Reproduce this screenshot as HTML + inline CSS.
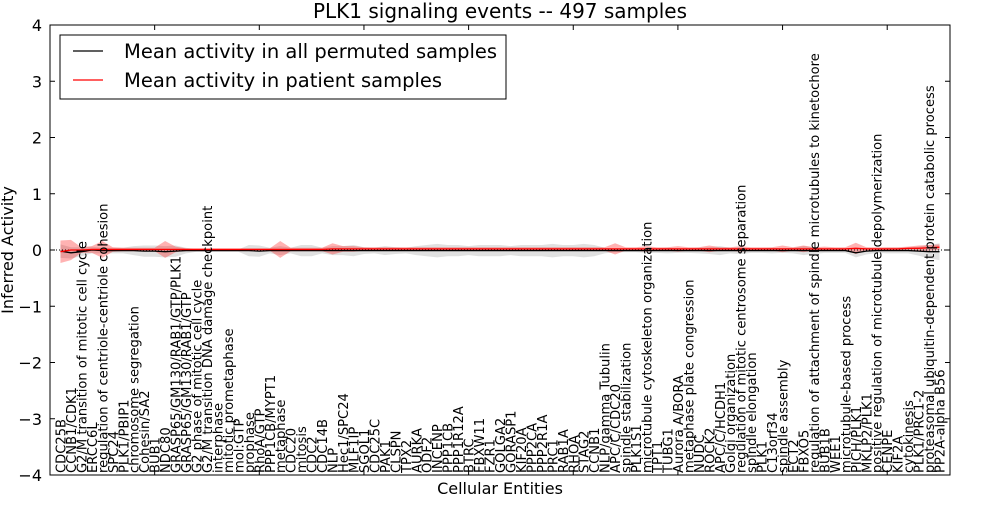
<!DOCTYPE html>
<html><head><meta charset="utf-8"><style>
body{margin:0;background:#fff;}
svg{font-family:"DejaVu Sans","Liberation Sans",sans-serif;}
</style></head><body>
<svg id="chart" width="1000" height="500" xmlns="http://www.w3.org/2000/svg">
<rect width="1000" height="500" fill="#fff"/>
<text x="500" y="18" text-anchor="middle" font-size="20">PLK1 signaling events -- 497 samples</text>
<text transform="translate(13,250) rotate(-90)" text-anchor="middle" font-size="16">Inferred Activity</text>
<text x="500" y="494" text-anchor="middle" font-size="16">Cellular Entities</text>
<g id="plot"></g>
</svg>
<script>
const categories=["CDC25B","CCNB1/CDK1","G2/M transition of mitotic cell cycle","ERCC6L","regulation of centriole-centriole cohesion","SPC24","PLK1/PBIP1","chromosome segregation","Cohesin/SA2","BUB1","NDC80","GRASP65/GM130/RAB1/GTP/PLK1","GRASP65/GM130/RAB1/GTP","G2 phase of mitotic cell cycle","G2/M transition DNA damage checkpoint","interphase","mitotic prometaphase","mol:GTP","prophase","RhoA/GTP","PPP1CB/MYPT1","metaphase","CDC20","mitosis","CDC2","CDC14B","NLP","Hec1/SPC24","MLF1IP","SGOL1","CDC25C","PAK1","CLSPN","TPX2","AURKA","ODF2","INCENP","PPP1CB","PPP1R12A","BTRC","FBXW11","FZR1","GOLGA2","GORASP1","KIF20A","PPP2CA","PPP2R1A","PRC1","RAB1A","RHOA","STAG2","CCNB1","NLP/gamma Tubulin","APC/C/CDC20","spindle stabilization","PLK1S1","microtubule cytoskeleton organization","TPT1","TUBG1","Aurora A/BORA","metaphase plate congression","NUDC","ROCK2","APC/C/HCDH1","Golgi organization","regulation of mitotic centrosome separation","spindle elongation","PLK1","C13orf34","spindle assembly","ECT2","FBXO5","regulation of attachment of spindle microtubules to kinetochore","BUB1B","WEE1","microtubule-based process","PICH/PLK1","MKLP2/PLK1","positive regulation of microtubule depolymerization","CENPE","KIF2A","cytokinesis","PLK1/PRC1-2","proteasomal ubiquitin-dependent protein catabolic process","PP2A-alpha B56"];
const permMean=[-0.02,-0.05,-0.03,0,-0.01,-0.01,-0.01,-0.01,-0.02,-0.02,-0.03,-0.02,-0.01,-0.01,-0.01,-0.01,-0.01,-0.01,-0.01,-0.02,-0.01,-0.01,-0.01,-0.01,-0.01,-0.01,-0.01,-0.01,-0.01,-0.01,-0.01,-0.01,-0.01,-0.01,-0.01,-0.01,-0.01,-0.01,-0.01,-0.01,-0.01,-0.01,-0.01,-0.01,-0.01,-0.01,-0.01,-0.01,-0.01,-0.01,-0.01,-0.01,-0.01,-0.01,-0.01,-0.01,-0.01,-0.01,-0.01,-0.01,-0.01,-0.01,-0.01,-0.01,-0.01,-0.01,-0.01,-0.01,-0.01,-0.01,-0.01,-0.01,-0.01,-0.01,-0.01,-0.01,-0.05,-0.02,-0.01,-0.01,-0.01,-0.01,-0.02,-0.03,-0.03];
const permSd=[0.12,0.1,0.08,0.06,0.05,0.05,0.05,0.08,0.1,0.1,0.1,0.1,0.05,0.02,0.02,0.02,0.02,0.02,0.1,0.1,0.05,0.08,0.05,0.1,0.1,0.05,0.08,0.08,0.1,0.06,0.05,0.08,0.06,0.05,0.08,0.1,0.12,0.1,0.1,0.08,0.1,0.1,0.1,0.08,0.1,0.1,0.1,0.12,0.1,0.1,0.12,0.1,0.05,0.03,0.03,0.03,0.04,0.04,0.05,0.04,0.04,0.05,0.06,0.08,0.05,0.06,0.04,0.04,0.05,0.04,0.05,0.08,0.06,0.04,0.04,0.04,0.08,0.06,0.04,0.05,0.05,0.05,0.08,0.12,0.15];
const patMean=[-0.03,0,0,0.01,0.01,0.01,0.01,0.01,0.01,0.01,0.01,0.01,0.01,0.01,0.01,0.01,0.01,0.01,0.01,0.01,0.01,0.01,0.01,0.01,0.01,0.01,0.02,0.02,0.02,0.02,0.02,0.02,0.02,0.02,0.02,0.02,0.02,0.02,0.02,0.02,0.02,0.02,0.02,0.02,0.02,0.02,0.02,0.02,0.02,0.02,0.02,0.02,0.02,0.02,0.02,0.02,0.02,0.02,0.02,0.02,0.02,0.02,0.02,0.02,0.02,0.02,0.02,0.02,0.02,0.02,0.02,0.02,0.02,0.02,0.02,0.02,0.03,0.02,0.02,0.02,0.02,0.03,0.03,0.04,0.05];
const patSd=[0.2,0.18,0.05,0.06,0.15,0.04,0.03,0.03,0.03,0.03,0.15,0.05,0.02,0.02,0.02,0.02,0.02,0.02,0.02,0.02,0.02,0.15,0.03,0.03,0.03,0.03,0.1,0.05,0.05,0.03,0.03,0.03,0.03,0.03,0.03,0.03,0.03,0.03,0.03,0.03,0.03,0.03,0.03,0.03,0.03,0.03,0.03,0.03,0.03,0.03,0.03,0.03,0.03,0.1,0.03,0.03,0.05,0.03,0.03,0.05,0.03,0.03,0.06,0.03,0.03,0.05,0.03,0.03,0.03,0.06,0.03,0.06,0.03,0.04,0.03,0.03,0.1,0.03,0.03,0.03,0.03,0.03,0.05,0.05,0.05];
const yTicks=[4,3,2,1,0,-1,-2,-3,-4];
const xTicks=[0,10,20,30,40,50,60,70,80];

const L=50,R=950,T=25,B=475,XMAX=86,YMIN=-4,YMAX=4;
const xs=v=>L+(v/XMAX)*(R-L);
const ys=v=>T+(YMAX-v)/(YMAX-YMIN)*(B-T);
const NS="http://www.w3.org/2000/svg";
const g=document.getElementById('plot');
function mk(tag,attrs){const e=document.createElementNS(NS,tag);for(const k in attrs)e.setAttribute(k,attrs[k]);g.appendChild(e);return e;}
function band(mean,sd,fill,op,name){
  let up=[],dn=[];
  mean.forEach((m,i)=>{up.push(xs(i+1)+','+ys(m+sd[i]));dn.unshift(xs(i+1)+','+ys(m-sd[i]));});
  const p=mk('polygon',{points:up.concat(dn).join(' '),fill:fill,'fill-opacity':op,stroke:'none'});
  
  
}
function line(mean,col,name){
  const p=mk('polyline',{points:mean.map((m,i)=>xs(i+1)+','+ys(m)).join(' '),fill:'none',stroke:col,'stroke-width':1.3});
  
  
}
band(permMean,permSd,'#bbbbbb',0.45,'permuted-band');
band(patMean,patSd,'#ff0000',0.3,'patient-band');
const z=mk('line',{x1:L,x2:R,y1:ys(0),y2:ys(0),stroke:'#000','stroke-dasharray':'1,2','stroke-width':1});


line(permMean,'#000','permuted-mean-line');
line(patMean,'#ff0000','patient-mean-line');
const fr=mk('rect',{x:L,y:T,width:R-L,height:B-T,fill:'none',stroke:'#000','stroke-width':1});


yTicks.forEach(v=>{
  const y=ys(v);
  mk('line',{x1:L,x2:L+5,y1:y,y2:y,stroke:'#000'});
  mk('line',{x1:R-5,x2:R,y1:y,y2:y,stroke:'#000'});
  const t=mk('text',{x:L-8,y:y+6,'text-anchor':'end','font-size':16});
  t.textContent=(v<0?'\u2212'+(-v):v);
  
  
});
xTicks.forEach(v=>{
  const x=xs(v);
  mk('line',{x1:x,x2:x,y1:T,y2:T+5,stroke:'#000'});
  mk('line',{x1:x,x2:x,y1:B-5,y2:B,stroke:'#000'});
});
categories.forEach((c,i)=>{
  const x=xs(i+1);
  const t=mk('text',{transform:'translate('+(x+5)+','+(B-2)+') rotate(-90)','font-size':13.1});
  t.textContent=c;
  
  
});
const lg=mk('rect',{x:60,y:35,width:446,height:64,fill:'#fff',stroke:'#000'});


[['#000','Mean activity in all permuted samples',51],['#ff0000','Mean activity in patient samples',80]].forEach(e=>{
  mk('line',{x1:73,x2:103,y1:e[2],y2:e[2],stroke:e[0],'stroke-width':1.3});
  const t=mk('text',{x:124,y:e[2]+7,'font-size':19.5});
  t.textContent=e[1];
  
  
});
</script>
</body></html>
